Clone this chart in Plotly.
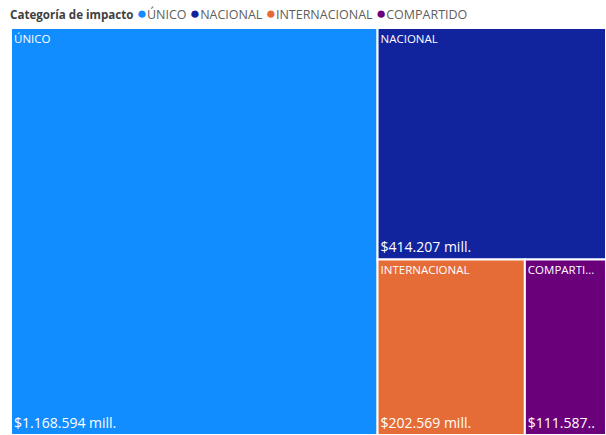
import plotly.graph_objects as go

root_label = "Categoría de impacto"
categories = ["ÚNICO", "NACIONAL", "INTERNACIONAL", "COMPARTIDO"]
values = [1168594, 414207, 202569, 111587]
colors = ["#118DFF", "#12239E", "#E66C37", "#6B007B"]
max_label_chars = 8


def fmt_value(v):
    return "$" + f"{v:,}".replace(",", ".")


label_text = [""]
value_text = [""]
for c, v in zip(categories, values):
    narrow = c == "COMPARTIDO"
    label_text.append(c[:max_label_chars] + "..." if narrow else c)
    vs = fmt_value(v)
    value_text.append(vs + ".." if narrow else vs + " mill.")

font_family = "Segoe UI, Open Sans, sans-serif"
common = dict(
    ids=["root"] + categories,
    labels=[root_label] + categories,
    parents=[""] + ["root"] * len(categories),
    values=[0] + values,
    branchvalues="remainder",
    texttemplate="%{text}",
    pathbar=dict(visible=False),
    sort=False,
    tiling=dict(pad=0, packing="squarify"),
    domain=dict(x=[0, 1], y=[0, 1]),
)

fig = go.Figure()
fig.add_trace(go.Treemap(
    text=label_text,
    textposition="top left",
    textfont=dict(family=font_family, size=11.5, color="white"),
    marker=dict(colors=["rgba(0,0,0,0)"] + colors,
                line=dict(width=[0] + [2] * len(categories), color="white"),
                pad=dict(t=0, l=0, r=0, b=0)),
    hoverinfo="label+value",
    **common,
))
fig.add_trace(go.Treemap(
    text=value_text,
    textposition="bottom left",
    textfont=dict(family=font_family, size=14, color="white"),
    marker=dict(colors=["rgba(0,0,0,0)"] * (len(categories) + 1), line=dict(width=0),
                pad=dict(t=0, l=0, r=0, b=0)),
    hoverinfo="skip",
    **common,
))

legend_parts = [f"<b><span style='color:#404040;font-size:11.6px'>{root_label}</span></b> "]
for c, col in zip(categories, colors):
    legend_parts.append(f"<span style='color:{col};font-size:17px'>●</span><span style='color:#605E5C'>{c}</span> ")
fig.add_annotation(
    text="".join(legend_parts),
    xref="paper", yref="paper", x=0, y=1, xanchor="left", yanchor="bottom",
    yshift=3, xshift=-2, showarrow=False, align="left", borderpad=0,
    font=dict(family=font_family, size=12.5, color="#605E5C"),
)

fig.update_layout(
    width=606, height=435,
    margin=dict(l=11, r=0, t=28, b=0, autoexpand=False),
    paper_bgcolor="white",
    plot_bgcolor="white",
    showlegend=False,
)

fig.write_html(
    "out.html",
    config={"displayModeBar": False},
    post_script="document.body.style.margin='0px';document.body.style.overflow='hidden';",
)
